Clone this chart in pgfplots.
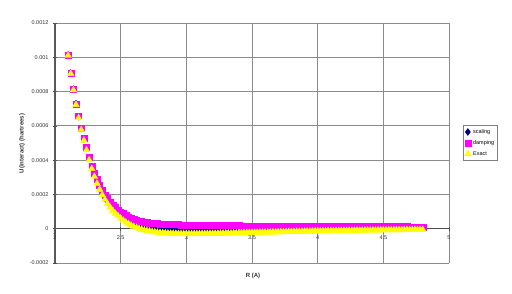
\documentclass[border=0pt]{standalone}
\usepackage{pgfplots}
\usepackage{pgfplotstable}
\pgfplotsset{compat=1.18}
\usepackage{fontspec}
\setmainfont{Liberation Sans}
\definecolor{navy}{HTML}{000080}
\definecolor{mag}{HTML}{FF00FF}
\definecolor{yel}{HTML}{FFFF00}
\definecolor{gridc}{HTML}{8C8C8C}
\pgfplotstableread{
R sc dmp ex
2.10 1014.0 1010.0 1010.0
2.12 908.8 906.1 904.1
2.14 814.3 812.9 808.9
2.16 729.3 729.2 723.2
2.18 653.0 654.2 646.2
2.20 584.4 586.9 576.9
2.22 522.8 526.6 514.6
2.24 467.5 472.6 458.6
2.26 410.2 416.6 400.6
2.28 359.7 367.4 349.4
2.30 315.1 324.1 304.1
2.32 275.8 286.1 264.1
2.34 241.1 252.7 228.7
2.36 210.6 223.5 197.5
2.38 183.8 198.0 170.0
2.40 160.2 175.7 145.7
2.42 139.3 155.8 124.2
2.44 120.9 138.5 105.3
2.46 104.9 123.5 88.7
2.48 90.7 110.4 74.0
2.50 78.4 99.1 61.1
2.52 66.2 87.7 48.5
2.54 55.5 77.8 37.4
2.56 46.4 69.4 27.8
2.58 38.4 62.2 19.4
2.60 31.6 56.2 12.2
2.62 25.7 50.9 5.9
2.64 20.5 46.4 0.4
2.66 16.2 42.7 -4.3
2.68 12.3 39.5 -8.5
2.70 9.2 37.0 -12.0
2.72 6.4 34.6 -15.0
2.74 3.9 32.5 -17.7
2.76 1.8 30.8 -20.0
2.78 0.0 29.4 -22.0
2.80 -1.4 28.4 -23.6
2.82 -2.6 27.3 -24.9
2.84 -3.8 26.3 -26.1
2.86 -4.7 25.5 -27.1
2.88 -5.5 24.8 -28.0
2.90 -6.1 24.4 -28.6
2.92 -6.5 23.9 -29.1
2.94 -7.0 23.4 -29.6
2.96 -7.3 23.1 -29.9
2.98 -7.7 22.8 -30.2
3.00 -7.8 22.7 -30.3
3.02 -8.0 22.1 -30.4
3.04 -8.1 21.7 -30.3
3.06 -8.2 21.2 -30.2
3.08 -8.2 20.9 -30.0
3.10 -8.3 20.5 -29.9
3.12 -8.2 20.2 -29.7
3.14 -8.1 20.0 -29.4
3.16 -8.1 19.6 -29.2
3.18 -8.0 19.4 -28.9
3.20 -7.9 19.2 -28.6
3.22 -7.7 19.0 -28.3
3.24 -7.5 18.9 -27.9
3.26 -7.4 18.6 -27.6
3.28 -7.2 18.5 -27.2
3.30 -7.1 18.3 -26.9
3.32 -7.0 18.1 -26.6
3.34 -6.6 18.1 -26.1
3.36 -6.5 17.8 -25.8
3.38 -6.2 17.8 -25.3
3.40 -6.0 17.7 -24.9
3.42 -5.9 17.5 -24.6
3.44 -5.5 17.5 -24.1
3.46 -5.4 17.3 -23.7
3.48 -5.1 17.2 -23.3
3.50 -4.9 17.1 -22.9
3.52 -4.7 17.0 -22.6
3.54 -4.6 16.8 -22.3
3.56 -4.4 16.8 -21.9
3.58 -4.2 16.6 -21.6
3.60 -4.0 16.6 -21.2
3.62 -3.7 16.6 -20.8
3.64 -3.6 16.4 -20.5
3.66 -3.3 16.4 -20.1
3.68 -3.2 16.2 -19.8
3.70 -2.9 16.2 -19.4
3.72 -2.7 16.2 -19.0
3.74 -2.6 16.0 -18.7
3.76 -2.3 16.0 -18.3
3.78 -2.2 15.8 -18.0
3.80 -1.9 15.8 -17.6
3.82 -1.7 15.8 -17.2
3.84 -1.5 15.6 -16.9
3.86 -1.3 15.6 -16.5
3.88 -1.1 15.4 -16.2
3.90 -0.9 15.4 -15.8
3.92 -0.6 15.4 -15.4
3.94 -0.5 15.2 -15.1
3.96 -0.2 15.2 -14.7
3.98 -0.1 15.0 -14.4
4.00 0.1 15.0 -14.0
4.02 0.2 14.9 -13.8
4.04 0.4 14.9 -13.5
4.06 0.5 14.7 -13.3
4.08 0.7 14.7 -13.0
4.10 0.8 14.6 -12.8
4.12 0.9 14.5 -12.6
4.14 1.1 14.5 -12.3
4.16 1.1 14.3 -12.1
4.18 1.3 14.3 -11.8
4.20 1.4 14.2 -11.6
4.22 1.5 14.1 -11.4
4.24 1.7 14.1 -11.1
4.26 1.8 13.9 -10.9
4.28 2.0 13.9 -10.6
4.30 2.1 13.8 -10.4
4.32 2.2 13.7 -10.2
4.34 2.4 13.7 -9.9
4.36 2.4 13.5 -9.7
4.38 2.6 13.5 -9.4
4.40 2.7 13.4 -9.2
4.42 2.8 13.3 -9.0
4.44 3.0 13.3 -8.7
4.46 3.0 13.1 -8.5
4.48 3.3 13.1 -8.2
4.50 3.3 13.0 -8.0
4.52 3.3 12.8 -7.9
4.54 3.5 12.8 -7.7
4.56 3.5 12.6 -7.6
4.58 3.5 12.4 -7.5
4.60 3.6 12.4 -7.3
4.62 3.6 12.2 -7.2
4.64 3.6 12.0 -7.1
4.66 3.7 12.0 -6.9
4.68 3.7 11.8 -6.8
4.70 3.7 11.6 -6.7
4.72 3.8 11.6 -6.5
4.74 3.8 11.4 -6.4
4.76 3.8 11.2 -6.3
4.78 4.0 11.2 -6.1
4.80 4.0 11.0 -6.0
}\datatable
\begin{document}
\begin{tikzpicture}[x=1pt,y=1pt]
\useasboundingbox (0,0) rectangle (512,294);
\begin{axis}[
  at={(55pt,31pt)}, anchor=south west,
  scale only axis, width=394pt, height=240pt,
  xmin=2, xmax=5, ymin=-200, ymax=1200,
  axis x line=middle, axis y line=left,
  hide obscured x ticks=false, hide obscured y ticks=false,
  axis line style={-},
  x axis line style={draw=black!70, line width=0.6pt},
  y axis line style={draw=black!65, line width=1.4pt},
  xtick={2,2.5,3,3.5,4,4.5,5},
  xticklabels={2,2.5,3,3.5,4,4.5,5},
  ytick={-200,0,200,400,600,800,1000,1200},
  yticklabels={-0.0002,0,0.0002,0.0004,0.0006,0.0008,0.001,0.0012},
  /pgf/number format/assume math mode=true,
  tick style={draw=black!70, line width=0.5pt},
  major tick length=4pt, tick align=center,
  ticklabel style={font=\fontsize{5.5}{6}\selectfont, text=black!80},
  yticklabel style={xshift=-1pt},
  xticklabel style={yshift=-1pt},
  grid=major,
  grid style={draw=gridc, line width=0.8pt},
  clip=false,
  legend style={at={(axis description cs:1.035,0.575)}, anchor=north west,
    draw=gray, line width=0.5pt, font=\fontsize{5.5}{6.5}\selectfont,
    inner xsep=1.5pt, inner ysep=2pt, row sep=1.5pt, legend cell align=left},
  legend image code/.code={\draw[mark repeat=2,mark phase=2] plot coordinates {(0cm,0cm) (0.12cm,0cm) (0.24cm,0cm)};},
]
\addplot[only marks, mark=diamond*, mark size=3.4pt, color=navy] table[x=R,y=sc]{\datatable};
\addlegendentry{scaling}
\addplot[only marks, mark=square*, mark size=3pt, color=mag] table[x=R,y=dmp]{\datatable};
\addlegendentry{damping}
\addplot[only marks, mark=triangle*, mark size=3.8pt, color=yel] table[x=R,y=ex]{\datatable};
\addlegendentry{Exact}
\node[below, font=\fontsize{5.5}{6}\selectfont, text=black!80, inner sep=2pt] at (axis cs:2,0) {2};
\end{axis}
\node[rotate=90, font=\fontsize{6}{7}\selectfont\bfseries, text=black!80] at (22,150.5) {U(interact) (hartrees)};
\node[font=\fontsize{6}{7}\selectfont\bfseries, text=black!80] at (253,18.3) {R (A)};
\end{tikzpicture}
\end{document}
